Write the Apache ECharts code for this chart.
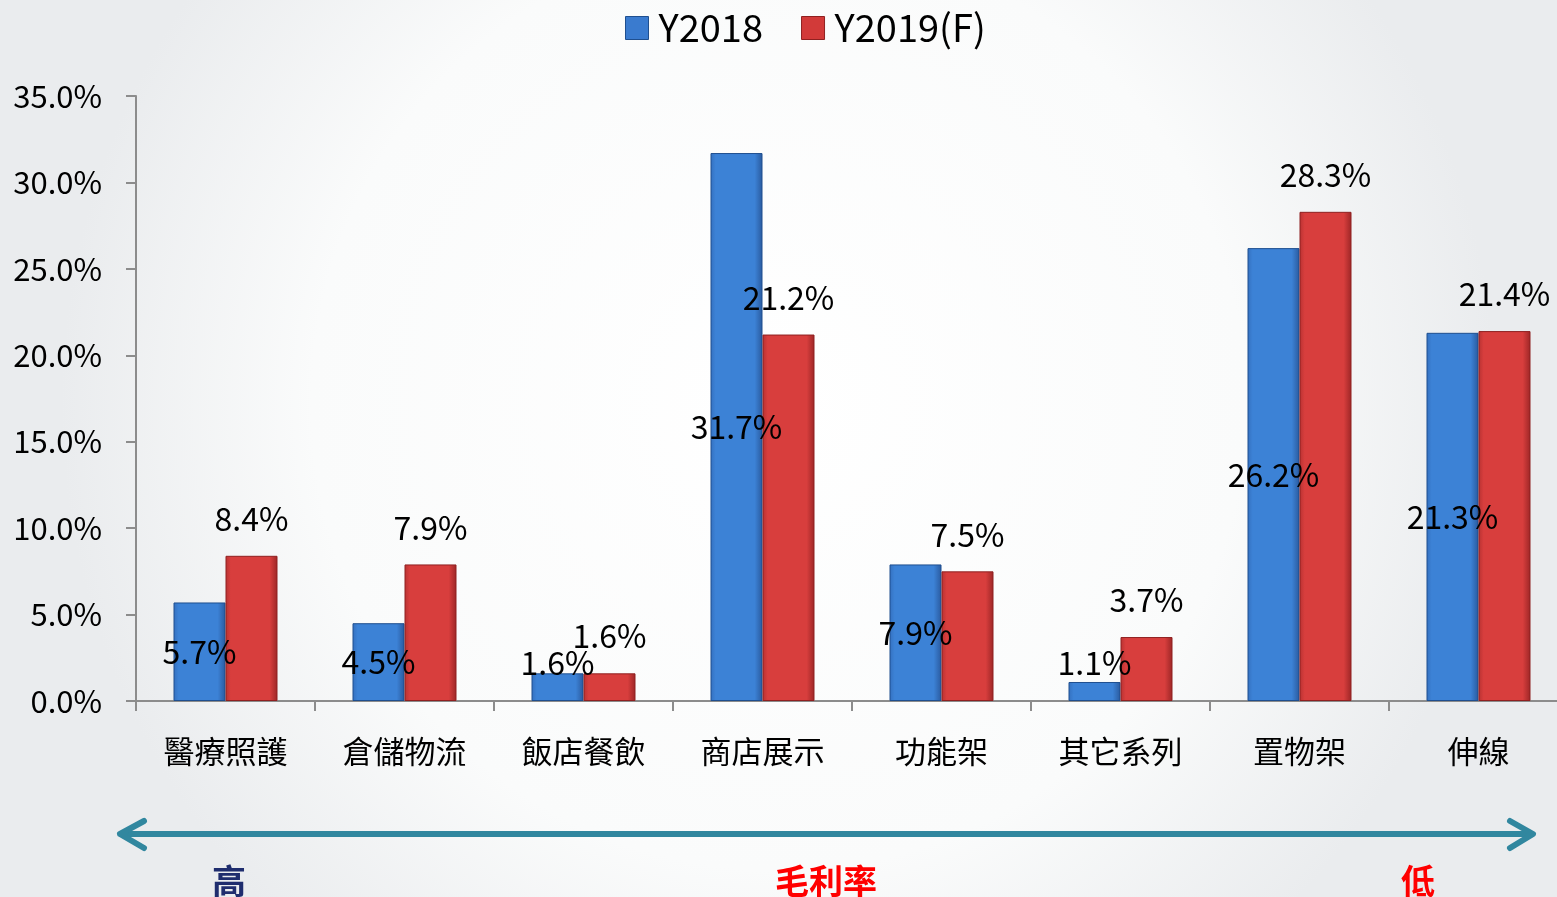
<!DOCTYPE html>
<html>
<head>
<meta charset="utf-8">
<script src="https://cdn.jsdelivr.net/npm/echarts@6/dist/echarts.min.js"></script>
<style>
  html, body { margin: 0; padding: 0; }
  #chart { width: 1557px; height: 897px; }
</style>
</head>
<body>
<div id="chart"></div>
<script>
// 產品類別（依毛利率由高到低）
const categories = ['醫療照護', '倉儲物流', '飯店餐飲', '商店展示', '功能架', '其它系列', '置物架', '伸線']
const y2018 = [5.7, 4.5, 1.6, 31.7, 7.9, 1.1, 26.2, 21.3]
const y2019 = [8.4, 7.9, 1.6, 21.2, 7.5, 3.7, 28.3, 21.4]
const seriesNames = ['Y2018', 'Y2019(F)']

const FONT = '"Noto Sans CJK TC", "Noto Sans", sans-serif'
const chart = echarts.init(document.getElementById('chart'), null, { renderer: 'canvas' })

const barGrad = (edge, mid, dark) =>
  new echarts.graphic.LinearGradient(0, 0, 1, 0, [
    { offset: 0, color: edge },
    { offset: 0.1, color: mid },
    { offset: 0.85, color: mid },
    { offset: 1, color: dark }
  ])

const blueColor = barGrad('#3470bf', '#3c82d6', '#2a5a9e')
const redColor = barGrad('#b83232', '#d83e3d', '#9c2626')

// 太矮的柱子標籤放到底部上方，避免擠壓
const blueData = y2018.map((v) =>
  v < 3
    ? { value: v, label: { position: 'insideBottom', distance: 22 } }
    : v
)

const option = {
  backgroundColor: new echarts.graphic.RadialGradient(0.5, 0.45, 0.8, [
    { offset: 0, color: '#ffffff' },
    { offset: 0.65, color: '#fafbfb' },
    { offset: 1, color: '#eaecee' }
  ]),
  textStyle: { fontFamily: FONT },
  legend: {
    top: 4,
    left: 620,
    itemWidth: 23,
    itemHeight: 23,
    itemGap: 38,
    icon: 'rect',
    textStyle: { fontSize: 38, color: '#000', fontFamily: FONT, padding: [0, 0, 0, 5] },
    data: [
      { name: seriesNames[0], itemStyle: { color: '#3a7bcf', borderColor: '#1f4f8f', borderWidth: 1 } },
      { name: seriesNames[1], itemStyle: { color: '#d23a39', borderColor: '#8f2020', borderWidth: 1 } }
    ]
  },
  grid: { left: 136, top: 96, width: 1432, height: 605, outerBoundsMode: 'none', containLabel: false },
  xAxis: {
    type: 'category',
    data: categories,
    axisLine: { lineStyle: { color: '#8c8c8c', width: 2 } },
    axisTick: { show: true, length: 10, lineStyle: { color: '#8c8c8c', width: 2 } },
    axisLabel: { fontSize: 31, color: '#000', margin: 35, fontFamily: FONT }
  },
  yAxis: {
    type: 'value',
    min: 0,
    max: 35,
    interval: 5,
    axisLine: { show: true, lineStyle: { color: '#8c8c8c', width: 2 } },
    axisTick: { show: true, length: 10, lineStyle: { color: '#8c8c8c', width: 2 } },
    splitLine: { show: false },
    axisLabel: {
      fontSize: 31,
      color: '#000',
      margin: 34,
      fontFamily: FONT,
      formatter: (v) => v.toFixed(1) + '%'
    }
  },
  series: [
    {
      name: seriesNames[0],
      type: 'bar',
      data: blueData,
      barWidth: 52,
      barGap: '0%',
      itemStyle: { color: blueColor, borderColor: '#1f4f8f', borderWidth: 1 },
      label: {
        show: true,
        position: 'inside',
        fontSize: 32,
        color: '#000',
        fontFamily: FONT,
        formatter: (p) => p.value.toFixed(1) + '%'
      }
    },
    {
      name: seriesNames[1],
      type: 'bar',
      data: y2019,
      barWidth: 52,
      barGap: '0%',
      itemStyle: { color: redColor, borderColor: '#8f2020', borderWidth: 1 },
      label: {
        show: true,
        position: 'top',
        distance: 21,
        fontSize: 32,
        color: '#000',
        fontFamily: FONT,
        formatter: (p) => p.value.toFixed(1) + '%'
      }
    }
  ],
  graphic: [
    {
      type: 'line',
      shape: { x1: 122, y1: 834, x2: 1531, y2: 834 },
      style: { stroke: '#31879f', lineWidth: 6 }
    },
    {
      type: 'polyline',
      shape: { points: [[144, 821], [120, 834], [144, 848]] },
      style: { stroke: '#31879f', lineWidth: 6, fill: null, lineCap: 'round', lineJoin: 'round' }
    },
    {
      type: 'polyline',
      shape: { points: [[1510, 821], [1533, 834], [1510, 848]] },
      style: { stroke: '#31879f', lineWidth: 6, fill: null, lineCap: 'round', lineJoin: 'round' }
    },
    {
      type: 'text',
      x: 229,
      y: 881,
      style: { text: '高', fill: '#1f2d6e', font: 'bold 34px ' + FONT, textAlign: 'center', textVerticalAlign: 'middle' }
    },
    {
      type: 'text',
      x: 826,
      y: 881,
      style: { text: '毛利率', fill: '#ff0000', font: 'bold 34px ' + FONT, textAlign: 'center', textVerticalAlign: 'middle' }
    },
    {
      type: 'text',
      x: 1418,
      y: 881,
      style: { text: '低', fill: '#ff0000', font: 'bold 34px ' + FONT, textAlign: 'center', textVerticalAlign: 'middle' }
    }
  ]
}

chart.setOption(option)
window.addEventListener('resize', () => chart.resize())
</script>
</body>
</html>
